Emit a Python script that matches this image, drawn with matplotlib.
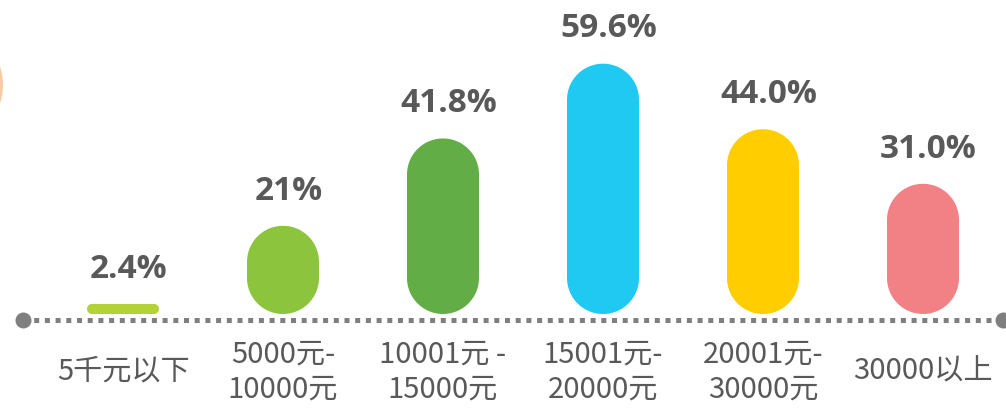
import matplotlib
matplotlib.use("Agg")
import numpy as np
import matplotlib.pyplot as plt
from matplotlib.patches import Polygon, Circle

# --- data
categories = ["5千元以下", "5000元-\n10000元", "10001元 -\n15000元",
              "15001元-\n20000元", "20001元-\n30000元", "30000以上"]
values = [2.4, 21, 41.8, 59.6, 44.0, 31.0]
value_labels = ["2.4%", "21%", "41.8%", "59.6%", "44.0%", "31.0%"]
colors = ["#B3D236", "#8CC43E", "#63AD46", "#20C9F2", "#FFCD00", "#F18185"]

TEXT = "#595959"
LINE = "#7F7F7F"

W_PX, H_PX, DPI = 1006, 408, 100
fig = plt.figure(figsize=(W_PX / DPI, H_PX / DPI), dpi=DPI)
ax = fig.add_axes([0, 0, 1, 1])
ax.set_axis_off()

# layout: 160 px per category, 4.2 px per percent
px_x, px_y = 160.0, 4.2
x0_px, y0_px = 123, H_PX - 314
ax.set_xlim(-x0_px / px_x, (W_PX - x0_px) / px_x)
ax.set_ylim(-y0_px / px_y, (H_PX - y0_px) / px_y)
aspect = px_x / px_y


def pill(xc, height, width, n=24):
    """Rounded bar (true circular ends in screen space)."""
    r = min(width, height / aspect) / 2
    ry = r * aspect
    left, right = xc - width / 2 + r, xc + width / 2 - r
    corners = [(right, height - ry, 0), (left, height - ry, 90),
               (left, ry, 180), (right, ry, 270)]
    pts = []
    for cx, cy, a0 in corners:
        t = np.radians(np.linspace(a0, a0 + 90, n))
        pts += list(zip(cx + r * np.cos(t), cy + ry * np.sin(t)))
    return pts


bar_w = 0.45
for i, (v, c) in enumerate(zip(values, colors)):
    ax.add_patch(Polygon(pill(i, v, bar_w), closed=True, fc=c, ec="none"))
    ax.annotate(value_labels[i], (i, v), xytext=(4, 25), textcoords="offset points",
                ha="center", va="center", fontsize=24, fontweight="bold",
                family=["Open Sans", "DejaVu Sans"], color=TEXT)
    ax.text(i, -13.8, categories[i], ha="center", va="center", fontsize=21,
            family=["Noto Sans CJK SC", "DejaVu Sans"], color=TEXT,
            linespacing=1.22, multialignment="center")

# dotted baseline with end dots
y_base = -1.5
xl = ax.get_xlim()
x_start = xl[0] + 23 / px_x
x_end = xl[1] - 3 / px_x
ax.plot([x_start, x_end], [y_base, y_base], color=LINE, lw=3.6,
        dashes=(1, 1.14), solid_capstyle="butt", dash_capstyle="butt")
ax.plot([x_start, x_end], [y_base, y_base], "o", color=LINE, ms=11.5, mew=0)

# partial orange circle at the left edge
fig.patches.append(Circle((-57, H_PX - 85), 60, transform=None,
                          fc="#F5C497", ec="none", alpha=0.85))

fig.savefig("out.png", dpi=DPI)
